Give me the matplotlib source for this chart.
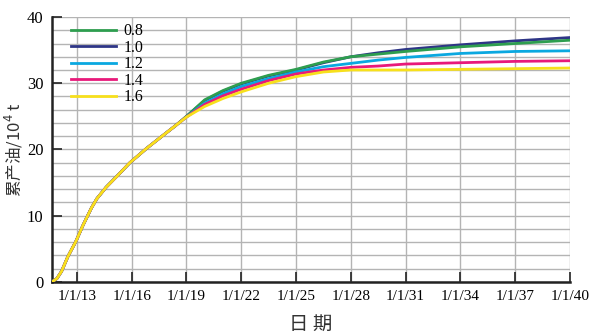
import matplotlib
matplotlib.use("Agg")
import matplotlib.pyplot as plt

# shared early part (all cases overlap until ~2019)
years_early = [2011.63, 2011.9, 2012.16, 2012.5, 2012.94, 2013.34, 2013.8,
               2014.1, 2014.6, 2015.17, 2015.9, 2016.83, 2017.75, 2018.4]
oil_early = [0.0, 0.5, 1.6, 3.8, 6.1, 8.6, 11.2, 12.6, 14.3, 15.9, 18.0, 20.2,
             22.2, 23.6]

# after the split
years_late = [2019.0, 2020.0, 2021.0, 2022.0, 2023.5, 2025.0, 2026.5,
              2028.0, 2029.5, 2031.0, 2034.0, 2037.0, 2040.0]
oil_08 = [25.0, 27.5, 28.9, 30.0, 31.2, 32.1, 33.2, 34.0, 34.4, 34.8, 35.5, 36.0, 36.5]
oil_10 = [25.0, 27.4, 28.8, 29.9, 31.1, 32.0, 33.1, 34.0, 34.6, 35.1, 35.8, 36.4, 36.9]
oil_12 = [24.9, 27.0, 28.4, 29.5, 30.7, 31.7, 32.5, 33.0, 33.5, 33.9, 34.5, 34.8, 34.9]
oil_14 = [24.9, 26.8, 28.1, 29.1, 30.4, 31.4, 32.0, 32.4, 32.6, 32.9, 33.1, 33.3, 33.4]
oil_16 = [24.9, 26.5, 27.7, 28.7, 30.0, 31.0, 31.7, 32.0, 32.0, 32.0, 32.1, 32.2, 32.3]

labels = ["0.8", "1.0", "1.2", "1.4", "1.6"]
colors = ["#2e9e4f", "#2e3586", "#0aa8e0", "#e8197a", "#f7e01c"]

xtick_pos = [2013, 2016, 2019, 2022, 2025, 2028, 2031, 2034, 2037, 2040]
xtick_lab = ["1/1/13", "1/1/16", "1/1/19", "1/1/22", "1/1/25", "1/1/28",
             "1/1/31", "1/1/34", "1/1/37", "1/1/40"]

fig = plt.figure(figsize=(5.9, 3.34), dpi=100)
ax = fig.add_axes([0.088, 0.156, 0.878, 0.793])

series = [oil_08, oil_10, oil_12, oil_14, oil_16]
zorders = [3.2, 3.1, 3.3, 3.4, 3.5]   # green sits over blue where they overlap
handles = []
for vals, lab, col, z in zip(series, labels, colors, zorders):
    h, = ax.plot(years_early + years_late, oil_early + vals, color=col, lw=2,
                 label=lab, zorder=z)
    handles.append(h)

ax.set_xlim(2011.63, 2040)
ax.set_ylim(0, 40)
ax.set_xticks(xtick_pos)
ax.set_xticklabels(xtick_lab, family="Liberation Serif", fontsize=11)
ax.set_yticks([0, 10, 20, 30, 40])
ax.set_yticks(range(0, 41, 2), minor=True)
ax.set_yticklabels(["0", "10", "20", "30", "40"], family="Liberation Serif", fontsize=12)
ax.tick_params(axis="both", which="major", direction="in", length=7, width=1.2,
               color="#222222", pad=6)
ax.tick_params(axis="y", which="minor", length=0)
ax.grid(True, which="both", color="#b4b4b4", lw=1)
ax.set_axisbelow(True)

for s in ["top", "right"]:
    ax.spines[s].set_visible(False)
for s in ["left", "bottom"]:
    ax.spines[s].set_linewidth(1.8)
    ax.spines[s].set_color("#222222")

ax.set_xlabel("日 期", family=["Noto Sans CJK SC", "DejaVu Sans"], fontsize=14,
              color="#333333", labelpad=8)
ax.set_ylabel("累产油/10$^4$ t", family=["Noto Sans CJK SC", "DejaVu Sans"], fontsize=12,
              color="#333333")
ax.yaxis.set_label_coords(-0.052, 0.5)

leg = ax.legend(handles=handles, loc="upper left", bbox_to_anchor=(0.01, 1.03),
                frameon=False, handlelength=2.8, labelspacing=0.03, handletextpad=0.45,
                prop={"family": "Liberation Serif", "size": 11.5})

fig.savefig("out.png", dpi=100)
